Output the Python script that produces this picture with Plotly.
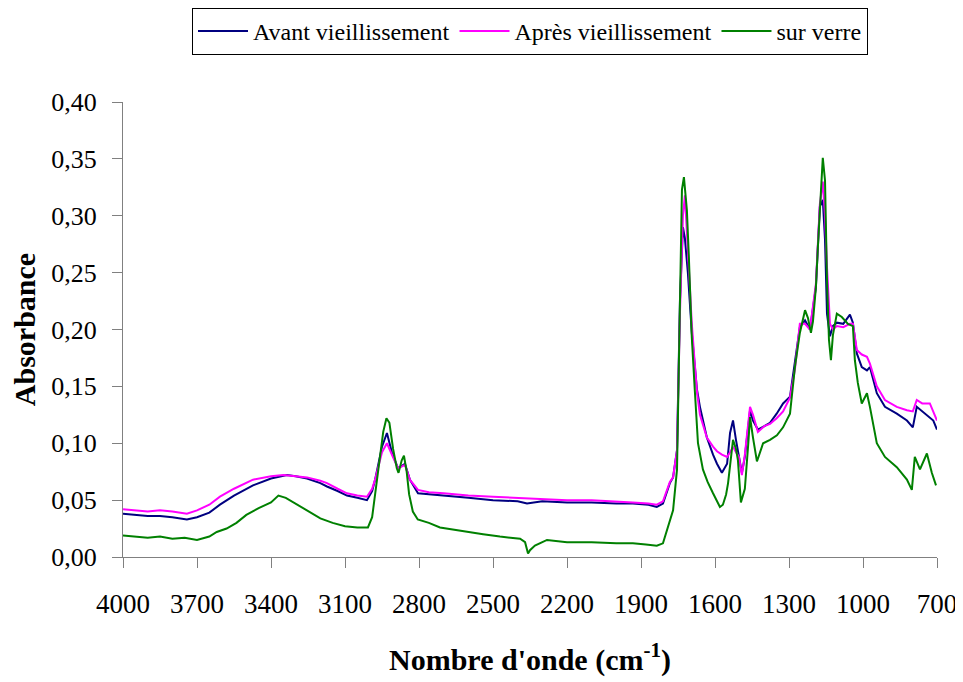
import plotly.graph_objects as go

# --- Data (wavenumber cm-1, absorbance) ---
wn_avant = [4000, 3950, 3900, 3850, 3800, 3741, 3700, 3650, 3607, 3550, 3473, 3400, 3335, 3300, 3254, 3200, 3173, 3130, 3092, 3050, 3011, 2990, 2978, 2950, 2930, 2910, 2885, 2857, 2837, 2804, 2760, 2700, 2600, 2500, 2400, 2362, 2300, 2200, 2100, 2000, 1933, 1870, 1836, 1811, 1783, 1770, 1754, 1742, 1730, 1722, 1710, 1694, 1682, 1673, 1661, 1633, 1608, 1592, 1572, 1551, 1539, 1527, 1515, 1503, 1491, 1479, 1458, 1446, 1426, 1400, 1377, 1350, 1324, 1296, 1276, 1256, 1235, 1215, 1191, 1183, 1175, 1163, 1154, 1146, 1134, 1122, 1106, 1080, 1053, 1041, 1025, 1005, 984, 972, 944, 911, 863, 822, 798, 782, 760, 729, 715, 700]
abs_avant = [0.038, 0.037, 0.036, 0.036, 0.035, 0.033, 0.035, 0.039, 0.046, 0.054, 0.063, 0.069, 0.072, 0.071, 0.069, 0.065, 0.062, 0.058, 0.054, 0.052, 0.050, 0.058, 0.068, 0.097, 0.109, 0.092, 0.078, 0.082, 0.068, 0.056, 0.055, 0.054, 0.052, 0.050, 0.049, 0.047, 0.049, 0.048, 0.048, 0.047, 0.047, 0.046, 0.044, 0.047, 0.065, 0.070, 0.094, 0.226, 0.290, 0.280, 0.250, 0.197, 0.170, 0.147, 0.132, 0.105, 0.090, 0.082, 0.074, 0.082, 0.109, 0.120, 0.103, 0.088, 0.074, 0.088, 0.129, 0.120, 0.112, 0.115, 0.118, 0.126, 0.135, 0.141, 0.173, 0.202, 0.208, 0.200, 0.237, 0.279, 0.308, 0.314, 0.279, 0.214, 0.194, 0.203, 0.206, 0.205, 0.213, 0.206, 0.179, 0.167, 0.164, 0.167, 0.144, 0.132, 0.126, 0.120, 0.114, 0.132, 0.128, 0.123, 0.120, 0.112]

wn_apres = [4000, 3950, 3900, 3850, 3800, 3741, 3700, 3650, 3607, 3550, 3473, 3400, 3350, 3300, 3254, 3200, 3173, 3130, 3092, 3050, 3011, 2990, 2978, 2950, 2930, 2910, 2885, 2857, 2837, 2804, 2760, 2700, 2600, 2500, 2400, 2300, 2200, 2100, 2000, 1933, 1870, 1836, 1811, 1783, 1770, 1754, 1742, 1730, 1722, 1710, 1694, 1682, 1673, 1661, 1633, 1608, 1592, 1572, 1551, 1539, 1527, 1515, 1503, 1491, 1479, 1458, 1446, 1426, 1400, 1377, 1350, 1324, 1296, 1276, 1256, 1235, 1215, 1191, 1183, 1175, 1163, 1154, 1146, 1134, 1122, 1106, 1080, 1053, 1041, 1025, 1005, 984, 972, 944, 911, 863, 822, 798, 782, 760, 729, 715, 700]
abs_apres = [0.042, 0.041, 0.040, 0.041, 0.040, 0.038, 0.041, 0.046, 0.053, 0.060, 0.068, 0.071, 0.072, 0.071, 0.070, 0.067, 0.065, 0.060, 0.056, 0.054, 0.053, 0.060, 0.068, 0.092, 0.100, 0.090, 0.078, 0.081, 0.068, 0.059, 0.057, 0.056, 0.054, 0.053, 0.052, 0.051, 0.050, 0.050, 0.049, 0.048, 0.047, 0.046, 0.049, 0.066, 0.070, 0.094, 0.215, 0.300, 0.318, 0.270, 0.205, 0.170, 0.145, 0.125, 0.105, 0.097, 0.093, 0.090, 0.088, 0.092, 0.097, 0.092, 0.088, 0.072, 0.090, 0.132, 0.125, 0.110, 0.115, 0.117, 0.122, 0.128, 0.140, 0.165, 0.205, 0.205, 0.200, 0.240, 0.280, 0.310, 0.330, 0.300, 0.255, 0.205, 0.200, 0.203, 0.202, 0.205, 0.205, 0.182, 0.178, 0.176, 0.170, 0.150, 0.138, 0.132, 0.129, 0.128, 0.138, 0.135, 0.135, 0.128, 0.120]

wn_verre = [4000, 3950, 3900, 3850, 3800, 3750, 3700, 3650, 3620, 3580, 3540, 3500, 3450, 3400, 3370, 3340, 3300, 3250, 3200, 3150, 3100, 3050, 3007, 2990, 2975, 2960, 2945, 2932, 2920, 2905, 2890, 2883, 2870, 2861, 2850, 2840, 2825, 2805, 2760, 2715, 2660, 2606, 2540, 2472, 2420, 2390, 2370, 2358, 2350, 2330, 2300, 2281, 2200, 2100, 2000, 1933, 1880, 1836, 1811, 1795, 1780, 1770, 1754, 1742, 1734, 1726, 1714, 1706, 1694, 1682, 1669, 1649, 1630, 1608, 1590, 1580, 1568, 1555, 1547, 1527, 1515, 1507, 1495, 1479, 1465, 1458, 1446, 1430, 1405, 1377, 1349, 1324, 1296, 1276, 1256, 1235, 1223, 1211, 1203, 1191, 1183, 1171, 1163, 1154, 1146, 1138, 1130, 1122, 1106, 1086, 1061, 1041, 1033, 1021, 1005, 984, 972, 944, 911, 863, 822, 802, 790, 769, 741, 721, 704]
abs_verre = [0.019, 0.018, 0.017, 0.018, 0.016, 0.017, 0.015, 0.018, 0.022, 0.025, 0.030, 0.037, 0.043, 0.048, 0.054, 0.052, 0.047, 0.040, 0.034, 0.030, 0.027, 0.026, 0.026, 0.035, 0.060, 0.090, 0.110, 0.122, 0.118, 0.095, 0.078, 0.074, 0.085, 0.089, 0.075, 0.055, 0.040, 0.033, 0.030, 0.026, 0.024, 0.022, 0.020, 0.018, 0.017, 0.016, 0.013, 0.003, 0.006, 0.010, 0.013, 0.015, 0.013, 0.013, 0.012, 0.012, 0.011, 0.010, 0.012, 0.024, 0.035, 0.041, 0.077, 0.240, 0.323, 0.334, 0.305, 0.264, 0.193, 0.147, 0.100, 0.077, 0.066, 0.056, 0.048, 0.044, 0.046, 0.055, 0.065, 0.103, 0.095, 0.085, 0.048, 0.060, 0.100, 0.123, 0.105, 0.084, 0.100, 0.103, 0.107, 0.114, 0.126, 0.167, 0.197, 0.217, 0.210, 0.197, 0.207, 0.237, 0.272, 0.314, 0.351, 0.331, 0.244, 0.191, 0.173, 0.195, 0.214, 0.211, 0.205, 0.203, 0.173, 0.153, 0.135, 0.144, 0.132, 0.100, 0.088, 0.079, 0.068, 0.059, 0.088, 0.077, 0.091, 0.074, 0.063]

x_ticks = [4000, 3700, 3400, 3100, 2800, 2500, 2200, 1900, 1600, 1300, 1000, 700]
y_ticks = [0.00, 0.05, 0.10, 0.15, 0.20, 0.25, 0.30, 0.35, 0.40]

series = [
    ("Avant vieillissement", wn_avant, abs_avant, "#000080"),
    ("Après vieillissement", wn_apres, abs_apres, "#FF00FF"),
    ("sur verre", wn_verre, abs_verre, "#008000"),
]

FONT = "Liberation Serif, Times New Roman, serif"

fig = go.Figure()
for name, x, y, col in series:
    fig.add_trace(go.Scatter(x=x, y=y, mode="lines", name=name,
                             line=dict(color=col, width=2)))

# page body has an 8px margin, so the figure is sized to fit the 963x682 window
fig.update_layout(
    width=955, height=674,
    margin=dict(l=115, r=26, t=94, b=125, autoexpand=False),
    paper_bgcolor="white", plot_bgcolor="white",
    separators=", ",
    font=dict(family=FONT, color="black", size=26),
    showlegend=True,
    legend=dict(orientation="h", x=0.5, xanchor="center", y=1.207, yanchor="top",
                bordercolor="black", borderwidth=1, bgcolor="white",
                font=dict(family=FONT, size=24), itemwidth=50, tracegroupgap=0),
)
fig.update_xaxes(
    range=[4000, 700], tickvals=x_ticks, ticktext=[str(v) for v in x_ticks],
    showgrid=False, zeroline=False, showline=True, linecolor="#808080", linewidth=1,
    ticks="outside", ticklen=10, tickcolor="#808080", ticklabelstandoff=13,
    tickfont=dict(family=FONT, size=27),
    title=dict(text="<b>Nombre d'onde (cm<sup>-1</sup>)</b>", font=dict(family=FONT, size=30), standoff=30),
)
fig.update_yaxes(
    range=[0, 0.40], tickvals=y_ticks, tickformat=".2f",
    showgrid=False, zeroline=False, showline=True, linecolor="#808080", linewidth=1,
    ticks="outside", ticklen=10, tickcolor="#808080", ticklabelstandoff=10,
    tickfont=dict(family=FONT, size=26),
    title=dict(text="<b>Absorbance</b>", font=dict(family=FONT, size=30), standoff=7),
)

fig.write_html("out.html")
